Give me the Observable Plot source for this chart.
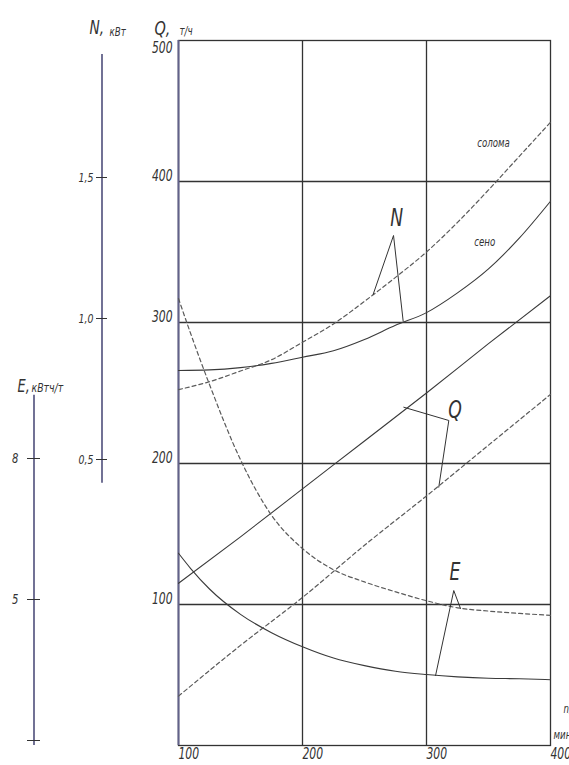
<!DOCTYPE html>
<html><head><meta charset="utf-8">
<script src="https://cdn.jsdelivr.net/npm/d3@7"></script>
<script src="https://cdn.jsdelivr.net/npm/@observablehq/plot@0.6"></script>
<style>html,body{margin:0;padding:0;background:#fff;overflow:hidden}svg{display:block}</style>
</head><body><div id="chart"></div>
<script>
// rotor speed n, мин⁻¹
const nN = [100,125,150,175,200,225,250,275,300,325,350,375,400];
// power N, кВт
const N_seno   = [0.83,0.832,0.84,0.855,0.877,0.90,0.94,0.99,1.035,1.105,1.19,1.30,1.43];
const N_soloma = [0.762,0.79,0.828,0.868,0.93,0.995,1.075,1.16,1.25,1.355,1.47,1.59,1.71];
// throughput Q, т/ч
const nQ = [100,150,200,250,300,350,400];
const Q_seno   = [115,148,182,216,250,285,319];
const Q_soloma = [35,71,105,142,177,213,249];
// specific energy E, кВтч/т
const nE = [100,110,125,150,175,200,225,250,275,300,325,350,375,400];
const E_seno   = [6.09,5.76,5.33,4.79,4.40,4.10,3.86,3.70,3.58,3.51,3.46,3.43,3.42,3.40];
const E_soloma = [11.51,10.75,9.68,8.08,6.90,6.19,5.74,5.48,5.27,5.08,4.93,4.86,4.81,4.77];

// axes
const xTicks = [100,200,300,400];
const qTicks = [100,200,300,400];
const qTop = [500];
const nTicks = [0.5,1.0,1.5];
const nTickLabels = ["0,5","1,0","1,5"];
const nAxisExtent = [0.43,1.95];
const eTicks = [2,5,8];
const eTickLabels = ["","5","8"];
const eAxisExtent = [2,9.45];

// curve labels and callouts (n, Q-scale value)
const curveLabels = [{n:354,y:427,text:"солома"},{n:347,y:357,text:"сено"}];
const calloutLabels = [{n:276,y:374,text:"N"},{n:323,y:238,text:"Q"},{n:323,y:123,text:"E"}];
const calloutLines = [
  {id:"N", pts:[[257,320],[273.4,361.7],[281.2,300.9]]},
  {id:"Q", pts:[[281.7,239.9],[318,230.5],[309.9,183.2]]},
  {id:"E", pts:[[307.3,49.6],[322,109.9],[327.4,97.2]]}
];

// map N and E onto the common vertical (Q) scale
const yN = v => 100 + 200*v;
const yE = v => (v - 2)/0.03;

const rows = (xs, ys, f, s) => xs.map((x,i)=>({n:x, y:f(ys[i]), s}));
const id = v => v;
const solid = [...rows(nN,N_seno,yN,"Ns"), ...rows(nQ,Q_seno,id,"Qs"), ...rows(nE,E_seno,yE,"Es")];
const dashed = [...rows(nN,N_soloma,yN,"Nd"), ...rows(nQ,Q_soloma,id,"Qd"), ...rows(nE,E_soloma,yE,"Ed")];
const leaders = calloutLines.flatMap(c => c.pts.map(p => ({id:c.id, n:p[0], y:p[1]})));

const FONT = "'Liberation Sans Narrow','DejaVu Sans Condensed','Liberation Sans',sans-serif";
const ink = "#333";
const axisInk = "#62628a";

const nQt = nTicks.map(yN), eQt = eTicks.map(yE);
const lookup = (arr, labels) => d => { const i = arr.findIndex(t => Math.abs(t-d) < 1e-6); return i < 0 ? "" : labels[i]; };

const chart = Plot.plot({
  width: 569, height: 765,
  marginLeft: 178, marginRight: 19, marginTop: 40, marginBottom: 20,
  x: {domain: [100,400], label: null},
  y: {domain: [0,500], label: null},
  style: {fontFamily: FONT, fontStyle: "italic", color: ink, background: "#fff", overflow: "visible"},
  marks: [
    Plot.gridX([200,300], {stroke: ink, strokeOpacity: 1, strokeWidth: 1.3}),
    Plot.gridY([100,200,300,400], {stroke: ink, strokeOpacity: 1, strokeWidth: 1.3}),
    Plot.frame({stroke: ink, strokeWidth: 1.3}),
    Plot.ruleX([100], {stroke: axisInk, strokeWidth: 2}),
    // curves
    Plot.line(solid, {x: "n", y: "y", z: "s", curve: "monotone-x", stroke: "#3a3a3a", strokeWidth: 1.1}),
    Plot.line(dashed, {x: "n", y: "y", z: "s", curve: "monotone-x", stroke: "#5a5a5a", strokeWidth: 1.2, strokeDasharray: "4,3"}),
    // callouts
    Plot.line(leaders, {x: "n", y: "y", z: "id", stroke: ink, strokeWidth: 1}),
    Plot.text(calloutLabels, {x: "n", y: "y", text: "text", fontSize: 24, fill: ink}),
    Plot.text(curveLabels, {x: "n", y: "y", text: "text", fontSize: 12, fill: ink}),
    // main axes
    Plot.axisX(xTicks, {tickSize: 0, tickPadding: 3, textAnchor: "start", fontSize: 15, label: null}),
    Plot.axisY(qTicks, {tickSize: 0, tickPadding: 6, dy: -5, fontSize: 15, label: null}),
    Plot.axisY(qTop, {tickSize: 0, tickPadding: 6, dy: 8, fontSize: 15, label: null}),
    // N axis
    Plot.ruleX([100], {y1: yN(nAxisExtent[0]), y2: yN(nAxisExtent[1]), dx: -76.5, stroke: axisInk, strokeWidth: 1.8}),
    Plot.axisY(nQt, {anchor: "left", tickSize: 11, tickPadding: 3, dx: -71, dy: -4, fontSize: 13, label: null, tickFormat: lookup(nQt, nTickLabels)}),
    // E axis
    Plot.ruleX([100], {y1: yE(eAxisExtent[0]), y2: yE(eAxisExtent[1]), dx: -144.5, stroke: axisInk, strokeWidth: 1.8}),
    Plot.axisY(eQt, {anchor: "left", tickSize: 13, tickPadding: 9, dx: -138, dy: -5, fontSize: 14, label: null, tickFormat: lookup(eQt, eTickLabels)}),
    // axis titles
    Plot.text(["N,"], {frameAnchor: "top-left", dx: -89, dy: -20, textAnchor: "start", fontSize: 19}),
    Plot.text(["кВт"], {frameAnchor: "top-left", dx: -69, dy: -13, textAnchor: "start", fontSize: 12}),
    Plot.text(["Q,"], {frameAnchor: "top-left", dx: -24, dy: -20, textAnchor: "start", fontSize: 20}),
    Plot.text(["т/ч"], {frameAnchor: "top-left", dx: 1, dy: -14, textAnchor: "start", fontSize: 12}),
    Plot.text(["E,"], {frameAnchor: "top-left", dx: -161, dy: 339, textAnchor: "start", fontSize: 18}),
    Plot.text(["кВтч/т"], {frameAnchor: "top-left", dx: -147, dy: 342, textAnchor: "start", fontSize: 13}),
    Plot.text(["n,"], {frameAnchor: "bottom-right", dx: 13, dy: -33, textAnchor: "start", fontSize: 12}),
    Plot.text(["мин⁻¹"], {frameAnchor: "bottom-right", dx: 3, dy: -7, textAnchor: "start", fontSize: 12})
  ]
});
document.getElementById("chart").append(chart);
// narrow drafting lettering: compress each label horizontally
chart.querySelectorAll("text").forEach(t => {
  const len = t.getComputedTextLength();
  if (len > 0) {
    t.setAttribute("textLength", (len * 0.8).toFixed(1));
    t.setAttribute("lengthAdjust", "spacingAndGlyphs");
  }
});
</script>
</body></html>
